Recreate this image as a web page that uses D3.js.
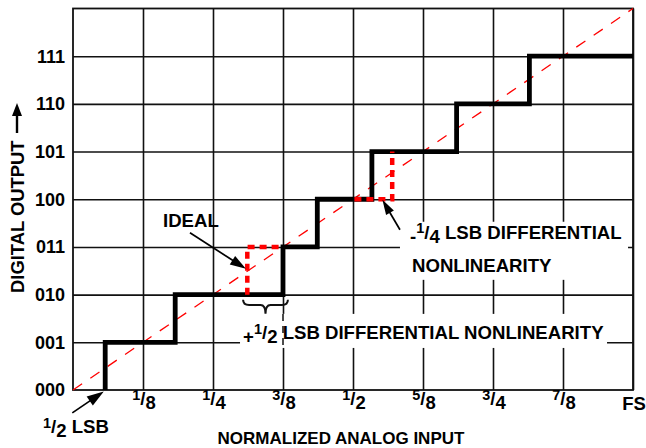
<!DOCTYPE html>
<html><head><meta charset="utf-8">
<script src="https://cdn.jsdelivr.net/npm/d3@7"></script>
<style>
body{margin:0;background:#fff}
svg{display:block}
text{font-family:"Liberation Sans",Arial,sans-serif;font-weight:bold;fill:#000}
</style>
</head><body>
<svg id="c" width="646" height="448"></svg>
<script>
// ---- data ----
const xTickValues = [1, 2, 3, 4, 5, 6, 7, 8];
const xTickLabels = ["1/8", "1/4", "3/8", "1/2", "5/8", "3/4", "7/8", "FS"];
const yTickValues = [0, 1, 2, 3, 4, 5, 6, 7];
const yTickLabels = ["000", "001", "010", "011", "100", "101", "110", "111"];
const codes = [0, 1, 2, 3, 4, 5, 6, 7];
const transitions = [0.46, 1.46, 3.0, 3.49, 4.27, 5.48, 6.52]; // input (in 1/8 FS) where output steps to next code
const fullScale = 8;
const idealLine = [[0, 0], [8, 8]];
const idealPlusHalf = [[2.49, 2], [2.49, 3], [3.0, 3]];
const idealMinusQuarter = [[4.02, 4], [4.56, 4], [4.56, 5]];

// ---- scales ----
const svg = d3.select("#c");
const x = d3.scaleLinear([0, 8], [73, 633]);
const y = d3.scaleLinear([0, 8], [390, 8.5]);
const line = d3.line().x(d => x(d[0])).y(d => y(d[1]));

// ---- grid ----
const gridX = svg.append("g").attr("transform", `translate(0,${y(0)})`)
  .call(d3.axisBottom(x).tickValues(xTickValues).tickSize(-(y(0) - y(8))).tickFormat(""));
gridX.select(".domain").remove();
gridX.selectAll("line").attr("stroke", "#111").attr("stroke-width", 1.6);

const gridY = svg.append("g").attr("transform", `translate(${x(0)},0)`)
  .call(d3.axisLeft(y).tickValues(yTickValues.slice(1)).tickSize(-(x(8) - x(0))).tickFormat(""));
gridY.select(".domain").remove();
gridY.selectAll("line").attr("stroke", "#111").attr("stroke-width", 1.6);

svg.append("rect").attr("x", x(0)).attr("y", y(8)).attr("width", x(8) - x(0)).attr("height", y(0) - y(8))
  .attr("fill", "none").attr("stroke", "#111").attr("stroke-width", 1.8);

// ---- white label boxes hiding grid ----
svg.append("rect").attr("x", x(2.386)).attr("y", y(1.596)).attr("width", x(7.629) - x(2.386)).attr("height", y(0.882) - y(1.596)).attr("fill", "#fff");
svg.append("rect").attr("x", x(4.671)).attr("y", y(3.528)).attr("width", x(7.929) - x(4.671)).attr("height", y(2.31) - y(3.528)).attr("fill", "#fff");
svg.append("line").attr("x1", x(3)).attr("x2", x(3)).attr("y1", y(1.596)).attr("y2", y(0.882))
  .attr("stroke", "#111").attr("stroke-width", 1.5).attr("stroke-dasharray", "7,5");

// ---- ideal transfer line ----
svg.append("path").attr("d", line(idealLine)).attr("fill", "none")
  .attr("stroke", "#ff0000").attr("stroke-width", 1.3).attr("stroke-dasharray", "11,10");

// ---- actual staircase ----
const stairs = [[transitions[0], codes[0]]];
transitions.forEach((t, i) => {
  stairs.push([t, codes[i + 1]]);
  stairs.push([i < transitions.length - 1 ? transitions[i + 1] : fullScale, codes[i + 1]]);
});
svg.append("path").attr("d", line(stairs)).attr("fill", "none")
  .attr("stroke", "#000").attr("stroke-width", 4.8).attr("stroke-linejoin", "miter").attr("stroke-linecap", "butt");

// ---- ideal (red) steps ----
[idealPlusHalf, idealMinusQuarter].forEach(seg => {
  svg.append("path").attr("d", line(seg)).attr("fill", "none")
    .attr("stroke", "#ff0000").attr("stroke-width", 4.5).attr("stroke-dasharray", "7,5");
});

// ---- brace ----
const bx0 = x(2.43), bx1 = x(3.07), bm = (bx0 + bx1) / 2, byT = y(1.89), byM = y(1.78), byB = y(1.6);
svg.append("path").attr("d",
  `M${bx0},${byT} Q${bx0},${byM} ${bx0 + 6},${byM} L${bm - 5},${byM} Q${bm},${byM} ${bm},${byB} Q${bm},${byM} ${bm + 5},${byM} L${bx1 - 6},${byM} Q${bx1},${byM} ${bx1},${byT}`)
  .attr("fill", "none").attr("stroke", "#111").attr("stroke-width", 2);

// ---- arrows (pixel endpoints computed from scales) ----
function arrowPx(x1, y1, x2, y2, len, half, sw) {
  const dx = x2 - x1, dy = y2 - y1, L = Math.hypot(dx, dy), ux = dx / L, uy = dy / L;
  const bx = x2 - ux * len, by = y2 - uy * len;
  svg.append("line").attr("x1", x1).attr("y1", y1).attr("x2", bx + ux * 2).attr("y2", by + uy * 2)
    .attr("stroke", "#000").attr("stroke-width", sw);
  svg.append("path").attr("d",
    `M${x2},${y2} L${bx - uy * half},${by + ux * half} L${bx + uy * half},${by - ux * half} Z`).attr("fill", "#000");
}
function arrow(a, b, len, half) { arrowPx(x(a[0]), y(a[1]), x(b[0]), y(b[1]), len, half, 1.7); }
arrow([-0.01, -0.48], [0.44, -0.03], 17, 5.5);   // 1/2 LSB
arrow([1.671, 3.297], [2.47, 2.54], 16, 5);      // IDEAL
arrow([4.671, 3.36], [4.42, 3.99], 15, 4.5);     // -1/4 LSB

// ---- fraction text helper ----
function frac(g, str, size) {
  const parts = str.split("/");
  if (parts.length < 2) { g.text(str); return; }
  g.append("tspan").attr("font-size", size * 0.78).attr("dy", -size * 0.5).text(parts[0]);
  g.append("tspan").attr("dy", size * 0.3).text("/");
  g.append("tspan").attr("dy", size * 0.22).text(parts[1]);
}

// ---- tick labels ----
svg.append("g").selectAll("text").data(yTickValues).join("text")
  .attr("x", 65).attr("y", d => y(d)).attr("dy", "0.36em").attr("text-anchor", "end")
  .attr("font-size", 18).text((d, i) => yTickLabels[i]);

svg.append("g").selectAll("text").data(xTickValues).join("text")
  .attr("x", d => x(d) + 1).attr("y", (d, i) => xTickLabels[i].includes("/") ? 409 : 410)
  .attr("text-anchor", "middle").attr("font-size", 18.5)
  .each(function (d, i) { frac(d3.select(this), xTickLabels[i], 18.5); });

// ---- axis titles ----
svg.append("text").attr("x", 341).attr("y", 443.5).attr("text-anchor", "middle")
  .attr("font-size", 17).text("NORMALIZED ANALOG INPUT");
svg.append("text").attr("transform", "translate(24,293) rotate(-90)").attr("text-anchor", "start")
  .attr("font-size", 18.4).text("DIGITAL OUTPUT");
arrowPx(17, 133, 17, 103, 13, 5, 2.4);

// ---- annotations ----
const fs = 18.6;
const t1 = svg.append("text").attr("x", 43).attr("y", 437).attr("font-size", fs);
frac(t1, "1/2", fs);
t1.append("tspan").attr("dy", -fs * 0.22).text(" LSB");

svg.append("text").attr("x", x(1.286)).attr("y", y(3.42)).attr("font-size", fs).text("IDEAL");

const t2 = svg.append("text").attr("x", x(4.843) - 2).attr("y", y(3.087)).attr("font-size", fs);
t2.append("tspan").text("-");
frac(t2, "1/4", fs);
t2.append("tspan").attr("dy", -fs * 0.22).text(" LSB DIFFERENTIAL");
svg.append("text").attr("x", x(4.843)).attr("y", y(2.478)).attr("font-size", fs).text("NONLINEARITY");

const t3 = svg.append("text").attr("x", x(2.429)).attr("y", y(0.987)).attr("font-size", fs);
t3.append("tspan").text("+");
frac(t3, "1/2", fs);
t3.append("tspan").attr("dy", -fs * 0.22).text(" LSB DIFFERENTIAL NONLINEARITY");
</script>
</body></html>
